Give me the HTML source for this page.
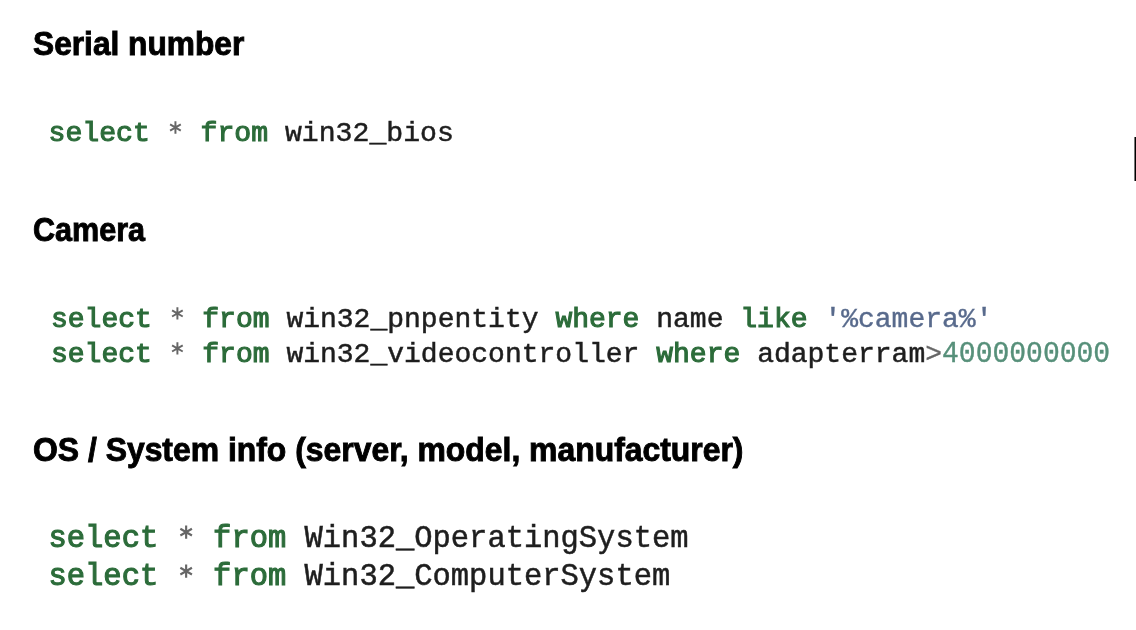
<!DOCTYPE html>
<html><head><meta charset="utf-8">
<style>
html,body{margin:0;padding:0;background:#fff;width:1136px;height:630px;overflow:hidden;position:relative}
.h{position:absolute;left:33px;font-family:"Liberation Sans",sans-serif;font-weight:bold;font-size:32.5px;line-height:40px;color:#000;-webkit-text-stroke:0.9px #000;white-space:nowrap;transform-origin:0 0}
.c{position:absolute;font-family:"Liberation Mono",monospace;white-space:pre;line-height:36px;filter:blur(0.4px)}
.k{color:#2c6c3a;-webkit-text-stroke:1.1px #2c6c3a}
.i{color:#1e1e1e;-webkit-text-stroke:0.5px #1e1e1e}
.s{position:relative;color:transparent}
.ast{position:absolute;left:0;bottom:0.27em;width:0.6em;height:0.8em;stroke:#666;stroke-width:7;fill:none;stroke-linecap:butt;filter:blur(0.5px)}
.q{color:#586a8c;-webkit-text-stroke:0.4px #586a8c}
.n{color:#57907a;-webkit-text-stroke:0.4px #57907a;display:inline-block;transform:scaleY(1.08);transform-origin:50% 80%}
.g{color:#666;-webkit-text-stroke:0.3px #666}
.bar{position:absolute;left:1134px;top:137px;width:2px;height:44px;background:linear-gradient(to right,#777 50%,#000 50%)}
</style></head><body>
<div class="h" id="h1" style="top:24.2px;transform:scaleX(0.975)">Serial number</div>
<div class="c" id="c1" style="left:48.5px;top:115.8px;font-size:28.15px"><span class="k">select</span> <span class="s">*<svg class="ast" viewBox="0 0 60 80"><path d="M30 8V52M11 19L49 41M11 41L49 19"/></svg></span> <span class="k">from</span> <span class="i">win32_bios</span></div>
<div class="bar"></div>
<div class="h" id="h2" style="top:210px;transform:scaleX(0.94)">Camera</div>
<div class="c" id="c2" style="left:51px;top:302px;font-size:28.03px;line-height:35px"><span class="k">select</span> <span class="s">*<svg class="ast" viewBox="0 0 60 80"><path d="M30 8V52M11 19L49 41M11 41L49 19"/></svg></span> <span class="k">from</span> <span class="i">win32_pnpentity</span> <span class="k">where</span> <span class="i">name</span> <span class="k">like</span> <span class="q">'%camera%'</span>
<span class="k">select</span> <span class="s">*<svg class="ast" viewBox="0 0 60 80"><path d="M30 8V52M11 19L49 41M11 41L49 19"/></svg></span> <span class="k">from</span> <span class="i">win32_videocontroller</span> <span class="k">where</span> <span class="i">adapterram</span><span class="g">&gt;</span><span class="n">4000000000</span></div>
<div class="h" id="h3" style="top:430px;transform:scaleX(0.981)">OS / System info (server, model, manufacturer)</div>
<div class="c" id="c3" style="left:48.5px;top:520px;font-size:30.47px;line-height:38.4px"><span class="k">select</span> <span class="s">*<svg class="ast" viewBox="0 0 60 80"><path d="M30 8V52M11 19L49 41M11 41L49 19"/></svg></span> <span class="k">from</span> <span class="i">Win32_OperatingSystem</span>
<span class="k">select</span> <span class="s">*<svg class="ast" viewBox="0 0 60 80"><path d="M30 8V52M11 19L49 41M11 41L49 19"/></svg></span> <span class="k">from</span> <span class="i">Win32_ComputerSystem</span></div>
</body></html>
